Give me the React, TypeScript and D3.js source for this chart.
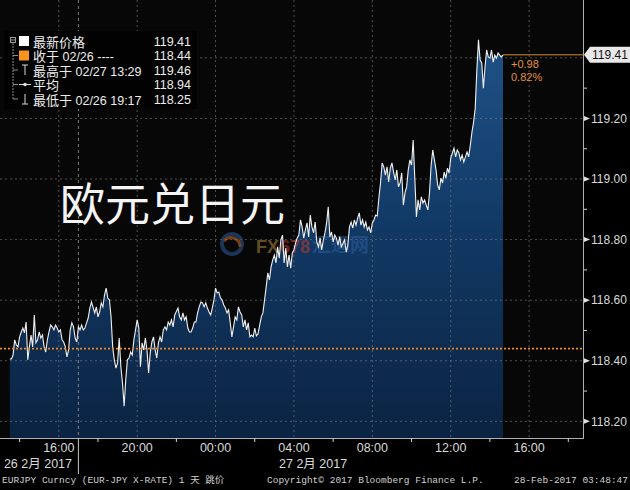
import React from "react";
import * as d3 from "d3";

// ---- data ----
const seriesStart = Date.UTC(2017, 1, 26, 13, 30);
const stepMinutes = 5;
const prices: number[] = [
  118.406, 118.406, 118.419, 118.469, 118.452, 118.446, 118.479, 118.495, 118.508, 118.492,
  118.528, 118.403, 118.446, 118.485, 118.446, 118.551, 118.459, 118.469, 118.495, 118.475,
  118.485, 118.446, 118.429, 118.469, 118.495, 118.518, 118.512, 118.502, 118.518, 118.508,
  118.495, 118.502, 118.469, 118.462, 118.446, 118.413, 118.436, 118.502, 118.525, 118.512,
  118.475, 118.462, 118.512, 118.502, 118.518, 118.502, 118.508, 118.525, 118.541, 118.574,
  118.594, 118.576,
  118.558, 118.578, 118.545, 118.561, 118.591, 118.578, 118.617, 118.640, 118.607, 118.601,
  118.545, 118.446, 118.403, 118.376, 118.393, 118.475, 118.380, 118.327, 118.250, 118.337,
  118.403, 118.409, 118.429, 118.419, 118.469, 118.502, 118.535, 118.508, 118.380, 118.459,
  118.436, 118.475, 118.436, 118.360, 118.426, 118.462, 118.479, 118.436, 118.409, 118.459,
  118.479, 118.462, 118.502, 118.512, 118.502, 118.528, 118.518, 118.535, 118.512, 118.551,
  118.563,
  118.574, 118.545, 118.535, 118.558, 118.535, 118.545, 118.508, 118.495, 118.495, 118.508,
  118.528, 118.528, 118.558, 118.578, 118.594, 118.591, 118.578, 118.591, 118.574, 118.561,
  118.551, 118.574, 118.601, 118.640, 118.624, 118.627, 118.607, 118.601, 118.584, 118.574,
  118.558, 118.568, 118.525, 118.479, 118.512, 118.545, 118.535, 118.578, 118.561, 118.551,
  118.512, 118.535, 118.502, 118.525, 118.479, 118.485, 118.479, 118.508, 118.482, 118.488,
  118.517,
  118.545, 118.558, 118.601, 118.644, 118.690, 118.667, 118.710, 118.733, 118.749, 118.723,
  118.776, 118.739, 118.799, 118.815, 118.723, 118.772, 118.710, 118.749, 118.706, 118.756,
  118.766, 118.789, 118.805, 118.815, 118.865, 118.842, 118.805, 118.832, 118.855, 118.809,
  118.881, 118.842, 118.822, 118.858, 118.792, 118.776, 118.805, 118.766, 118.799, 118.822,
  118.855, 118.908, 118.809, 118.825, 118.792, 118.815, 118.805, 118.782, 118.809, 118.776,
  118.787,
  118.799, 118.759, 118.782, 118.842, 118.858, 118.838, 118.865, 118.848, 118.871, 118.888,
  118.848, 118.865, 118.842, 118.858, 118.832, 118.842, 118.822, 118.855, 118.865, 118.881,
  118.878, 118.937, 118.987, 119.053, 119.040, 119.013, 119.040, 118.990, 119.036, 119.053,
  119.023, 118.997, 119.030, 118.974, 118.987, 119.020, 118.914, 118.954, 118.974, 119.030,
  119.063, 119.046, 119.129, 119.003, 118.875, 118.931, 118.898, 118.941, 118.921, 118.931,
  118.914,
  118.898, 118.954, 119.046, 119.096, 119.063, 119.030, 118.980, 118.964, 119.003, 118.987,
  119.023, 119.003, 119.036, 119.020, 119.069, 119.086, 119.102, 119.073, 119.096, 119.086,
  119.063, 119.079, 119.056, 119.073, 119.089, 119.073, 119.112, 119.155, 119.188, 119.234,
  119.360, 119.460, 119.393, 119.383, 119.300, 119.370, 119.426, 119.403, 119.399, 119.426,
  119.386, 119.409, 119.399, 119.416, 119.409, 119.403, 119.410,
];

const yTickValues = [118.2, 118.4, 118.6, 118.8, 119.0, 119.2];
const yGridValues = [118.2, 118.4, 118.6, 118.8, 119.0, 119.2, 119.4];
const yMinorValues = [118.3, 118.5, 118.7, 118.9, 119.1, 119.3];

const xLabelTimes = [
  Date.UTC(2017, 1, 26, 16), Date.UTC(2017, 1, 26, 20), Date.UTC(2017, 1, 27, 0),
  Date.UTC(2017, 1, 27, 4), Date.UTC(2017, 1, 27, 8), Date.UTC(2017, 1, 27, 12),
  Date.UTC(2017, 1, 27, 16),
];
const xMarkTimes = [
  Date.UTC(2017, 1, 26, 14), Date.UTC(2017, 1, 26, 18), Date.UTC(2017, 1, 26, 22),
  Date.UTC(2017, 1, 27, 2), Date.UTC(2017, 1, 27, 6), Date.UTC(2017, 1, 27, 10),
  Date.UTC(2017, 1, 27, 14), Date.UTC(2017, 1, 27, 18),
];
const daySeparator = Date.UTC(2017, 1, 26, 17);
const dateLabels = ["26 2月 2017", "27 2月 2017"];

const lastPrice = 119.41;
const prevClose = 118.44;
const changeText = "+0.98";
const changePctText = "0.82%";

const legendCjk = ["最新价格", "收于", "最高于", "平均", "最低于"];
const legendRest = ["", " 02/26 ----", " 02/27 13:29", "", " 02/26 19:17"];
const legendValues = ["119.41", "118.44", "119.46", "118.94", "118.25"];

const titleText = "欧元兑日元";
const watermarkParts = ["FX", "678", "汇通网"];
const footerLeft = "EURJPY Curncy (EUR-JPY X-RATE) 1 天  跳价";
const footerMid = "Copyright© 2017 Bloomberg Finance L.P.";
const footerRight = "28-Feb-2017 03:48:47";

// ---- layout ----
const W = 630;
const H = 490;
const plotRight = 583;
const plotBottom = 438;

const SANS = "'Liberation Sans', Arial, 'Noto Sans CJK SC', sans-serif";
const MONO = "'Liberation Mono', 'DejaVu Sans Mono', 'Noto Sans CJK SC', monospace";

export default function App() {
  const x = d3
    .scaleUtc()
    .domain([new Date(Date.UTC(2017, 1, 26, 13, 0)), new Date(Date.UTC(2017, 1, 27, 18, 45))])
    .range([0, plotRight]);
  const y = d3.scaleLinear().domain([118.145, 119.591]).range([plotBottom, 0]);

  const data = prices.map((p, i) => ({ t: new Date(seriesStart + i * stepMinutes * 60000), p }));
  const area = d3
    .area<{ t: Date; p: number }>()
    .x((d) => x(d.t))
    .y0(plotBottom)
    .y1((d) => y(d.p));
  const line = d3
    .line<{ t: Date; p: number }>()
    .x((d) => x(d.t))
    .y((d) => y(d.p));
  const fmtTime = d3.utcFormat("%H:%M");
  const last = data[data.length - 1];
  const lastX = x(last.t);
  const lastY = y(lastPrice);

  const rowY = [41, 55.5, 70, 84.5, 99];

  return (
    <svg
      width={W}
      height={H}
      style={{ position: "absolute", left: 0, top: 0, background: "#000" }}
    >
      <defs>
        <linearGradient id="areaGrad" gradientUnits="userSpaceOnUse" x1="0" y1="40" x2="0" y2={plotBottom}>
          <stop offset="0" stopColor="#1f5288" />
          <stop offset="0.45" stopColor="#123a66" />
          <stop offset="1" stopColor="#0b2342" />
        </linearGradient>
      </defs>
      <rect x={0} y={0} width={W} height={H} fill="#000" />
      <rect x={0} y={0} width={plotRight} height={plotBottom} fill="#070707" />

      {/* area */}
      <path d={area(data) || ""} fill="url(#areaGrad)" />

      {/* grid */}
      {yGridValues.map((v) => (
        <line key={"gy" + v} x1={0} x2={plotRight} y1={y(v)} y2={y(v)} stroke="#7a7a7a" strokeWidth={0.8} strokeDasharray="2,3" opacity={0.8} />
      ))}
      {xLabelTimes.map((t) => (
        <line key={"gx" + t} x1={x(new Date(t))} x2={x(new Date(t))} y1={0} y2={plotBottom} stroke="#7a7a7a" strokeWidth={0.8} strokeDasharray="2,3" opacity={0.8} />
      ))}
      <line x1={x(new Date(daySeparator))} x2={x(new Date(daySeparator))} y1={0} y2={plotBottom} stroke="#9a9a9a" strokeWidth={1} strokeDasharray="3,3" opacity={0.8} />

      {/* watermark */}
      <g opacity={0.55}>
        <circle cx={232} cy={244} r={10} fill="none" stroke="#2d5a9a" strokeWidth={4} />
        <path d="M 224 241 A 9 9 0 0 1 240 247" fill="none" stroke="#d0702a" strokeWidth={3} />
        <text x={256} y={253} fontFamily={SANS} fontWeight={700} fontSize={18} fill="#b08a3a">
          {watermarkParts[0]}
        </text>
        <text x={280} y={253} fontFamily={SANS} fontWeight={700} fontSize={18} fill="#c0392b">
          {watermarkParts[1]}
        </text>
        <text x={312} y={252} fontFamily={SANS} fontWeight={700} fontSize={19} fill="#2a5fa0">{watermarkParts[2]}</text>
      </g>

      {/* price line */}
      <path d={line(data) || ""} fill="none" stroke="#f0f0f0" strokeWidth={1.1} />

      {/* previous close dotted */}
      <line x1={0} x2={plotRight} y1={y(prevClose)} y2={y(prevClose)} stroke="#ee8a1a" strokeWidth={1.6} strokeDasharray="2,2" />

      {/* last price line */}
      <line x1={lastX} x2={plotRight} y1={lastY} y2={lastY} stroke="#d98a2a" strokeWidth={1} />
      <text x={511} y={68} fontFamily={SANS} fontSize={11} fill="#e0913a">{changeText}</text>
      <text x={511} y={81} fontFamily={SANS} fontSize={11} fill="#e0913a">{changePctText}</text>

      {/* axes */}
      <line x1={plotRight + 0.5} x2={plotRight + 0.5} y1={0} y2={plotBottom} stroke="#b0b0b0" strokeWidth={1} />
      <line x1={0} x2={plotRight + 1} y1={plotBottom + 0.5} y2={plotBottom + 0.5} stroke="#b0b0b0" strokeWidth={1} />

      {yTickValues.map((v) => (
        <g key={"yt" + v}>
          <path d={`M ${plotRight + 1} ${y(v) - 2.5} L ${plotRight + 7} ${y(v)} L ${plotRight + 1} ${y(v) + 2.5} Z`} fill="#e0e0e0" />
          <text x={plotRight + 8} y={y(v)} dy="0.35em" fontFamily={SANS} fontSize={12} fill="#d8d8d8">
            {v.toFixed(2)}
          </text>
        </g>
      ))}
      {yMinorValues.map((v) => (
        <line key={"ym" + v} x1={plotRight + 1} x2={plotRight + 4} y1={y(v)} y2={y(v)} stroke="#d0d0d0" strokeWidth={1} />
      ))}

      {/* last price tag */}
      <path
        d={`M ${plotRight + 1} ${lastY} L ${plotRight + 7} ${lastY - 8} L ${W} ${lastY - 8} L ${W} ${lastY + 8} L ${plotRight + 7} ${lastY + 8} Z`}
        fill="#e8e8e8"
      />
      <text x={plotRight + 9} y={lastY} dy="0.36em" fontFamily={SANS} fontSize={12} fill="#111">
        {lastPrice.toFixed(2)}
      </text>

      {/* x ticks */}
      {xMarkTimes.map((t) => (
        <line key={"xm" + t} x1={x(new Date(t))} x2={x(new Date(t))} y1={plotBottom} y2={plotBottom + 4} stroke="#d0d0d0" strokeWidth={1} />
      ))}
      {xLabelTimes.map((t) => (
        <text key={"xl" + t} x={x(new Date(t))} y={452} textAnchor="middle" fontFamily={SANS} fontSize={12.5} fill="#d8d8d8">
          {fmtTime(new Date(t))}
        </text>
      ))}
      <line x1={x(new Date(daySeparator))} x2={x(new Date(daySeparator))} y1={plotBottom} y2={474} stroke="#c8c8c8" strokeWidth={1} />
      <text x={72} y={468} textAnchor="end" fontFamily={SANS} fontSize={12.5} fill="#d8d8d8">{dateLabels[0]}</text>
      <text x={279} y={468} fontFamily={SANS} fontSize={12.5} fill="#d8d8d8">{dateLabels[1]}</text>

      {/* footer */}
      <text x={2} y={483} fontFamily={MONO} fontSize={9.5} fill="#cfcfcf">{footerLeft}</text>
      <text x={267} y={483} fontFamily={MONO} fontSize={9.5} fill="#cfcfcf">{footerMid}</text>
      <text x={628} y={483} textAnchor="end" fontFamily={MONO} fontSize={9.5} fill="#cfcfcf">{footerRight}</text>

      {/* title */}
      <text x={60} y={221} fontFamily={SANS} fontSize={45} fill="#f4f4f4">{titleText}</text>

      {/* legend */}
      <rect x={4} y={31} width={193} height={78} fill="#020202" />
      <rect x={10.5} y={37.5} width={5} height={5} fill="none" stroke="#9a9a9a" strokeWidth={1} />
      <line x1={11} x2={15} y1={40} y2={40} stroke="#9a9a9a" strokeWidth={1} />
      <line x1={13} x2={13} y1={43} y2={rowY[4]} stroke="#8a8a8a" strokeWidth={1} strokeDasharray="2,1" />
      {rowY.slice(1).map((ry) => (
        <line key={"br" + ry} x1={13} x2={18} y1={ry} y2={ry} stroke="#8a8a8a" strokeWidth={1} />
      ))}
      <rect x={19} y={rowY[0] - 5} width={10} height={10} fill="#ffffff" />
      <rect x={19} y={rowY[1] - 5} width={10} height={10} fill="#f7941d" />
      <g stroke="#d8d8d8" strokeWidth={1}>
        <line x1={22} x2={28} y1={rowY[2] - 5} y2={rowY[2] - 5} />
        <line x1={25} x2={25} y1={rowY[2] - 5} y2={rowY[2] + 5} />
        <line x1={19} x2={31} y1={rowY[3]} y2={rowY[3]} />
        <line x1={22} x2={28} y1={rowY[4] + 5} y2={rowY[4] + 5} />
        <line x1={25} x2={25} y1={rowY[4] - 5} y2={rowY[4] + 5} />
      </g>
      <circle cx={25} cy={rowY[3]} r={1.8} fill="#e0e0e0" />
      {legendCjk.map((c, i) => (
        <g key={"lg" + i}>
          <text x={33} y={rowY[i]} dy="0.36em" fontFamily={SANS} fill="#ececec">
            <tspan fontSize={13}>{c}</tspan>
            <tspan fontSize={12.5}>{legendRest[i]}</tspan>
          </text>
          <text x={191} y={rowY[i]} dy="0.36em" textAnchor="end" fontFamily={SANS} fontSize={12.5} fill="#ececec">
            {legendValues[i]}
          </text>
        </g>
      ))}
    </svg>
  );
}
